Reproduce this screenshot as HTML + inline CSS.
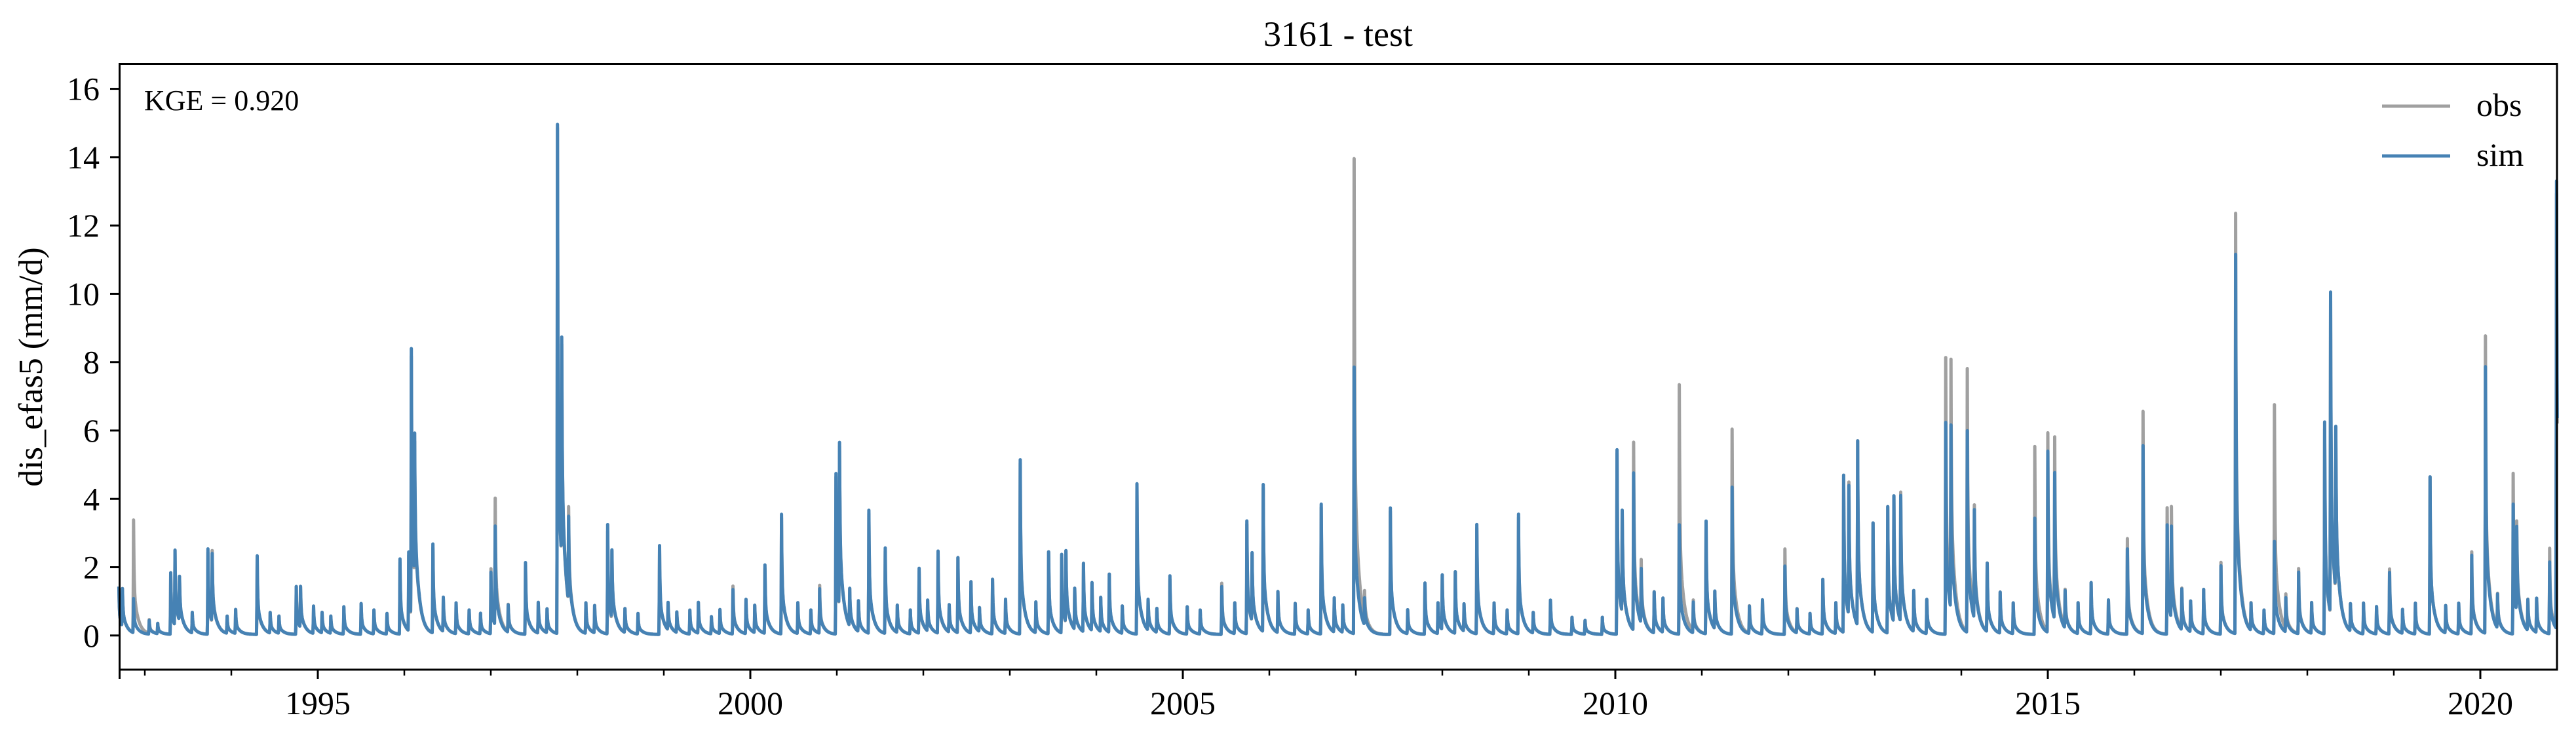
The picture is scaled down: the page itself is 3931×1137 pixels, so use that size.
<!DOCTYPE html>
<html><head><meta charset="utf-8"><style>
html,body{margin:0;padding:0;background:#fff;}
svg text{font-family:"Liberation Serif",serif;fill:#000;}
</style></head><body>
<svg id="chart" width="3931" height="1132" viewBox="0 0 3931 1132" xmlns="http://www.w3.org/2000/svg">
<rect width="3931" height="1132" fill="#fff"/>
<text x="2042" y="70" font-size="54" text-anchor="middle">3161 - test</text>
<text transform="translate(64,560) rotate(-90)" font-size="52" text-anchor="middle">dis_efas5 (mm/d)</text>
<g id="plot"></g>
<g id="axes"></g>
<rect x="182.5" y="97.5" width="3719.5" height="924.5" fill="none" stroke="#000" stroke-width="3"/>
<text x="220" y="168" font-size="44">KGE = 0.920</text>
<g>
<line x1="3635" y1="162" x2="3739" y2="162" stroke="#a0a0a0" stroke-width="5"/>
<text x="3779" y="177" font-size="50">obs</text>
<line x1="3635" y1="238" x2="3739" y2="238" stroke="#4682b4" stroke-width="5"/>
<text x="3779" y="253" font-size="50">sim</text>
</g>
</svg>
<script>
// ---- data ----
const eventYears = [1992.70,1992.74,1992.87,1993.30,1993.35,1993.40,1993.73,1993.78,1994.30,1994.75,1994.80,1995.30,1995.95,1996.05,1996.08,1996.12,1996.33,1996.45,1997.00,1997.05,1997.40,1997.77,1997.82,1997.90,1998.35,1998.40,1998.95,1999.40,1999.80,2000.17,2000.36,2000.80,2000.99,2001.03,2001.37,2001.56,2001.95,2002.17,2002.40,2002.55,2002.80,2003.12,2003.45,2003.60,2003.65,2003.85,2003.95,2004.15,2004.47,2004.85,2005.45,2005.74,2005.80,2005.93,2006.60,2006.98,2007.40,2007.80,2008.00,2008.15,2008.40,2008.88,2009.25,2010.02,2010.08,2010.21,2010.30,2010.74,2011.05,2011.35,2011.96,2012.40,2012.64,2012.70,2012.80,2012.98,2013.15,2013.22,2013.30,2013.82,2013.88,2014.07,2014.15,2014.30,2014.85,2015.00,2015.08,2015.50,2015.92,2016.10,2016.38,2016.43,2016.80,2017.00,2017.17,2017.62,2017.90,2018.20,2018.27,2018.33,2018.95,2019.42,2019.90,2020.06,2020.38,2020.42,2020.80,2020.88];
const simPeaks   = [1.4,1.1,1.0,1.8,2.2,1.3,2.5,2.0,2.3,1.4,1.2,0.8,2.2,2.3,7.8,4.2,2.6,1.0,1.8,2.9,2.1,14.9,6.5,2.5,3.2,2.0,2.6,0.9,1.3,2.0,3.5,1.3,4.7,4.8,3.6,2.5,1.9,2.4,2.2,1.5,1.6,5.1,2.4,2.3,2.1,2.0,1.4,1.7,4.4,1.7,1.4,3.3,2.0,4.3,3.8,7.8,3.7,1.5,1.6,1.8,3.2,3.5,1.0,5.4,3.0,4.6,1.6,3.2,3.3,4.3,2.0,1.6,4.6,3.8,5.4,3.2,3.7,3.7,3.7,6.2,5.4,5.9,3.2,2.0,3.4,5.3,4.3,1.5,2.5,5.5,3.2,2.7,1.3,2.0,11.1,2.7,1.8,6.2,9.4,4.8,1.8,4.6,2.3,7.8,3.8,2.5,2.1,13.1];
const obsPeaks   = [1.4,1.1,3.3,1.8,2.2,1.3,2.4,2.1,2.2,1.4,1.2,0.8,2.1,2.2,7.6,4.0,2.5,1.0,1.9,3.7,2.0,14.8,6.3,2.8,3.0,2.0,2.5,0.9,1.4,1.9,3.4,1.4,4.6,4.7,3.5,2.4,1.8,2.3,2.2,1.5,1.6,5.0,2.4,2.2,2.1,2.0,1.4,1.7,4.3,1.6,1.5,3.2,2.0,4.2,3.7,13.9,3.6,1.5,1.6,1.8,3.1,3.4,1.0,5.3,3.0,5.5,1.8,7.3,3.2,6.0,2.5,1.6,4.6,3.9,5.4,3.2,3.7,3.7,3.8,8.1,7.1,7.7,3.2,2.0,5.5,5.8,5.3,1.5,2.8,6.5,3.7,3.2,1.3,2.1,12.3,6.7,1.9,6.0,9.2,4.8,1.9,4.6,2.4,8.7,4.7,2.5,2.5,12.7];
const minorYears = [1993.05,1993.15,1993.55,1993.95,1994.05,1994.45,1994.55,1994.95,1995.05,1995.15,1995.50,1995.65,1995.80,1996.60,1996.75,1996.88,1997.20,1997.55,1997.65,1998.10,1998.20,1998.55,1998.70,1999.05,1999.15,1999.30,1999.55,1999.65,1999.95,2000.05,2000.55,2000.70,2001.15,2001.25,2001.70,2001.85,2002.05,2002.30,2002.65,2002.95,2003.30,2003.75,2004.05,2004.30,2004.60,2004.70,2005.05,2005.20,2005.60,2006.10,2006.30,2006.45,2006.75,2006.85,2007.10,2007.60,2007.95,2008.25,2008.60,2008.75,2009.05,2009.50,2009.65,2009.85,2010.45,2010.55,2010.90,2011.15,2011.55,2011.70,2012.10,2012.25,2012.55,2013.45,2013.60,2014.45,2014.60,2015.20,2015.35,2015.70,2016.55,2016.65,2017.35,2017.50,2017.75,2018.05,2018.50,2018.65,2018.80,2019.10,2019.25,2019.60,2019.75,2020.20,2020.55,2020.65];
const minorVals  = [0.4,0.3,0.6,0.5,0.7,0.6,0.5,0.8,0.6,0.5,0.9,0.7,0.6,0.9,0.7,0.6,0.8,0.9,0.7,0.9,0.8,0.7,0.6,0.8,0.6,0.7,0.5,0.7,1.0,0.8,0.9,0.7,1.1,0.9,0.8,0.7,0.9,0.8,0.7,1.0,0.9,1.2,1.0,0.8,0.9,0.7,0.8,0.7,0.9,1.2,0.9,0.7,1.0,0.8,0.8,0.7,0.9,0.8,0.9,0.7,0.6,0.5,0.4,0.5,1.2,1.0,0.9,1.1,0.8,1.0,0.7,0.6,0.9,1.2,1.0,1.2,0.9,1.1,0.9,1.0,1.2,0.9,0.8,0.7,1.0,0.9,0.8,0.9,0.8,0.7,0.9,0.8,0.9,1.0,0.9,1.0];
const yTicks = [0,2,4,6,8,10,12,14,16];
const xMajorTicks = [1995,2000,2005,2010,2015,2020];
const startYear = 1992.70, endYear = 2020.89;

// ---- axis functions ----
const X0=182.5, X1=3902, Y0=1022, Y1=97.5;
const yMin=-1.0, yMax=16.73;
function xs(t){ return 485 + (t-1995)*132; }
function ys(v){ return Y0 - (v-yMin)/(yMax-yMin)*(Y0-Y1); }

const NS="http://www.w3.org/2000/svg";
const plot=document.getElementById('plot');
const axes=document.getElementById('axes');

function hydro(d){
  if(d<-2) return 0;
  if(d===-2) return 0.15;
  if(d===-1) return 0.45;
  return 0.6*Math.exp(-d/2)+0.4*Math.exp(-d/18);
}
function dayIdx(t){ return Math.round((t-startYear)*365.25); }
function series(peaks){
  let pts=[];
  const n=dayIdx(endYear);
  const ev=eventYears.map(dayIdx), mi=minorYears.map(dayIdx);
  for(let i=0;i<=n;i++){
    const t=startYear+i/365.25;
    let v=0.03;
    for(let k=0;k<ev.length;k++){
      const d=i-ev[k];
      if(d>=-2&&d<120) v+=peaks[k]*hydro(d);
    }
    for(let k=0;k<mi.length;k++){
      const d=i-mi[k];
      if(d>=-2&&d<120) v+=minorVals[k]*hydro(d);
    }
    pts.push(xs(t).toFixed(1)+','+ys(v).toFixed(1));
  }
  return pts.join(' ');
}
const obsLine=document.createElementNS(NS,'polyline');
obsLine.setAttribute('points',series(obsPeaks));
obsLine.setAttribute('fill','none');obsLine.setAttribute('stroke','#a0a0a0');obsLine.setAttribute('stroke-width','5');
obsLine.setAttribute('stroke-linejoin','round');


plot.appendChild(obsLine);
const simLine=document.createElementNS(NS,'polyline');
simLine.setAttribute('points',series(simPeaks));
simLine.setAttribute('fill','none');simLine.setAttribute('stroke','#4682b4');simLine.setAttribute('stroke-width','5');
simLine.setAttribute('stroke-linejoin','round');


plot.appendChild(simLine);

yTicks.forEach(v=>{
  const y=ys(v);
  const l=document.createElementNS(NS,'line');
  l.setAttribute('x1',168);l.setAttribute('x2',182);l.setAttribute('y1',y);l.setAttribute('y2',y);
  l.setAttribute('stroke','#000');l.setAttribute('stroke-width','3');
  
  
  axes.appendChild(l);
  const tx=document.createElementNS(NS,'text');
  tx.setAttribute('x',152);tx.setAttribute('y',y+17);tx.setAttribute('font-size','50');tx.setAttribute('text-anchor','end');
  tx.textContent=v;
  
  
  axes.appendChild(tx);
});
for(let yr=1993; yr<=2020; yr++){
  if(xMajorTicks.indexOf(yr)>=0) continue;
  const x=xs(yr);
  const l=document.createElementNS(NS,'line');
  l.setAttribute('x1',x);l.setAttribute('x2',x);l.setAttribute('y1',1022);l.setAttribute('y2',1031);
  l.setAttribute('stroke','#000');l.setAttribute('stroke-width','2.5');
  
  
  axes.appendChild(l);
}
{
  const l=document.createElementNS(NS,'line');
  l.setAttribute('x1',X0);l.setAttribute('x2',X0);l.setAttribute('y1',1022);l.setAttribute('y2',1036);
  l.setAttribute('stroke','#000');l.setAttribute('stroke-width','3');
  
  
  axes.appendChild(l);
}
xMajorTicks.forEach(yr=>{
  const x=xs(yr);
  const l=document.createElementNS(NS,'line');
  l.setAttribute('x1',x);l.setAttribute('x2',x);l.setAttribute('y1',1022);l.setAttribute('y2',1036);
  l.setAttribute('stroke','#000');l.setAttribute('stroke-width','3');
  
  
  axes.appendChild(l);
  const tx=document.createElementNS(NS,'text');
  tx.setAttribute('x',x);tx.setAttribute('y',1090);tx.setAttribute('font-size','50');tx.setAttribute('text-anchor','middle');
  tx.textContent=yr;
  
  
  axes.appendChild(tx);
});
</script>
</body></html>
